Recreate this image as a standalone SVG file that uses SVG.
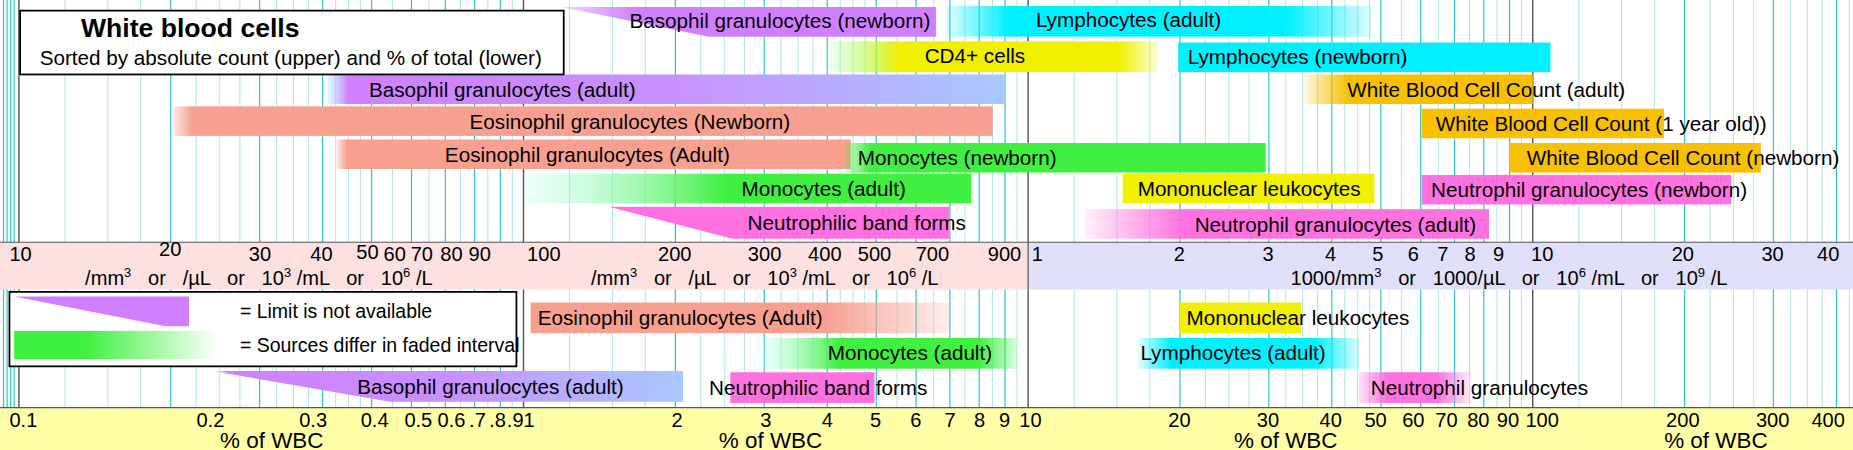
<svg xmlns="http://www.w3.org/2000/svg" xmlns:xlink="http://www.w3.org/1999/xlink" width="1853" height="450" viewBox="0 0 1853 450">
<style>
text{font-family:"Liberation Sans",Arial,sans-serif;fill:#000}
.lb{font-size:17.5px}
.tk{font-size:17px;text-anchor:middle}
.ts{font-size:17px}
.pw{font-size:19px;text-anchor:middle}
.un{font-size:17px;white-space:pre}
.lg{font-size:16.5px}
.g1{stroke:#2cc4c4;stroke-width:1}
.g2{stroke:#a8e6e6;stroke-width:0.8}
.gd{stroke:#555;stroke-width:1.2}
</style>
<defs>
<g id="dec">
<line class="gd" x1="0" y1="0" x2="0" y2="381"/>
<g class="g1"><line x1="128.5" y1="0" x2="128.5" y2="381"/><line x1="203.7" y1="0" x2="203.7" y2="381"/><line x1="257" y1="0" x2="257" y2="381"/><line x1="298.5" y1="0" x2="298.5" y2="381"/><line x1="332.2" y1="0" x2="332.2" y2="381"/><line x1="360.8" y1="0" x2="360.8" y2="381"/><line x1="385.6" y1="0" x2="385.6" y2="381"/><line x1="407.4" y1="0" x2="407.4" y2="381"/></g>
<g class="g2"><line x1="75.2" y1="0" x2="75.2" y2="381"/><line x1="169.9" y1="0" x2="169.9" y2="381"/><line x1="232.3" y1="0" x2="232.3" y2="381"/><line x1="278.9" y1="0" x2="278.9" y2="381"/><line x1="316.1" y1="0" x2="316.1" y2="381"/><line x1="347.1" y1="0" x2="347.1" y2="381"/><line x1="373.6" y1="0" x2="373.6" y2="381"/><line x1="396.8" y1="0" x2="396.8" y2="381"/><line x1="417.5" y1="0" x2="417.5" y2="381"/><line x1="39" y1="0" x2="39" y2="381"/><line x1="103" y1="0" x2="103" y2="381"/><line x1="150" y1="0" x2="150" y2="381"/><line x1="187" y1="0" x2="187" y2="381"/><line x1="218" y1="0" x2="218" y2="381"/><line x1="245" y1="0" x2="245" y2="381"/><line x1="268" y1="0" x2="268" y2="381"/><line x1="289" y1="0" x2="289" y2="381"/></g>
</g>
<linearGradient id="lymA"><stop offset="0" stop-color="#00f0ff" stop-opacity="0.1"/><stop offset="0.15" stop-color="#00f0ff"/><stop offset="0.8" stop-color="#00f0ff"/><stop offset="1" stop-color="#00f0ff" stop-opacity="0.15"/></linearGradient>
<linearGradient id="lymN"><stop offset="0" stop-color="#00f0ff"/><stop offset="1" stop-color="#00f0ff"/></linearGradient>
<linearGradient id="cd4"><stop offset="0" stop-color="#80ff80" stop-opacity="0.1"/><stop offset="0.22" stop-color="#f0f000"/><stop offset="0.88" stop-color="#f0f000"/><stop offset="1" stop-color="#f0f000" stop-opacity="0.15"/></linearGradient>
<linearGradient id="bas"><stop offset="0" stop-color="#a0e0ff" stop-opacity="0.3"/><stop offset="0.03" stop-color="#d080ff"/><stop offset="0.5" stop-color="#c890ff"/><stop offset="1" stop-color="#a8c8ff"/></linearGradient>
<linearGradient id="basN"><stop offset="0" stop-color="#d080ff" stop-opacity="0.3"/><stop offset="0.2" stop-color="#d080ff"/><stop offset="1" stop-color="#d080ff"/></linearGradient>
<linearGradient id="wbcA"><stop offset="0" stop-color="#f8c000" stop-opacity="0.1"/><stop offset="0.2" stop-color="#f8c000"/><stop offset="1" stop-color="#f8c000"/></linearGradient>
<linearGradient id="wbc"><stop offset="0" stop-color="#f8c000"/><stop offset="1" stop-color="#f8c000"/></linearGradient>
<linearGradient id="eosN"><stop offset="0" stop-color="#f8a090" stop-opacity="0.1"/><stop offset="0.025" stop-color="#f8a090"/><stop offset="1" stop-color="#f8a090"/></linearGradient>
<linearGradient id="eosA"><stop offset="0" stop-color="#f8a090" stop-opacity="0.2"/><stop offset="0.02" stop-color="#f8a090"/><stop offset="1" stop-color="#f8a090"/></linearGradient>
<linearGradient id="monN"><stop offset="0" stop-color="#40f040" stop-opacity="0.2"/><stop offset="0.06" stop-color="#40f040"/><stop offset="1" stop-color="#40f040"/></linearGradient>
<linearGradient id="monA"><stop offset="0" stop-color="#c0fff0" stop-opacity="0.3"/><stop offset="0.45" stop-color="#40f040"/><stop offset="1" stop-color="#40f040"/></linearGradient>
<linearGradient id="neuA"><stop offset="0" stop-color="#ff70e0" stop-opacity="0.1"/><stop offset="0.25" stop-color="#ff70e0"/><stop offset="1" stop-color="#ff70e0"/></linearGradient>
<linearGradient id="eosLow"><stop offset="0" stop-color="#f8a090"/><stop offset="0.7" stop-color="#f8a090"/><stop offset="1" stop-color="#f8a090" stop-opacity="0.15"/></linearGradient>
<linearGradient id="monLow"><stop offset="0" stop-color="#c0fff0" stop-opacity="0.3"/><stop offset="0.3" stop-color="#40f040"/><stop offset="0.85" stop-color="#40f040"/><stop offset="1" stop-color="#40f040" stop-opacity="0.2"/></linearGradient>
<linearGradient id="neuLow"><stop offset="0" stop-color="#ff70e0" stop-opacity="0.2"/><stop offset="0.25" stop-color="#ff70e0"/><stop offset="0.7" stop-color="#ff70e0"/><stop offset="1" stop-color="#ff70e0" stop-opacity="0.1"/></linearGradient>
<linearGradient id="leg"><stop offset="0" stop-color="#40f040"/><stop offset="0.35" stop-color="#40f040"/><stop offset="1" stop-color="#ffffff"/></linearGradient>
</defs>
<rect width="1853" height="450" fill="#fff"/>
<g transform="scale(1.18176)">
<g id="grid">
<use xlink:href="#dec" x="16"/><use xlink:href="#dec" x="443"/><use xlink:href="#dec" x="870"/><use xlink:href="#dec" x="1297"/>
<g class="g1"><line x1="3" y1="0" x2="3" y2="381"/><line x1="6" y1="0" x2="6" y2="381"/><line x1="9" y1="0" x2="9" y2="381"/><line x1="12" y1="0" x2="12" y2="381"/></g>
</g>
<g id="upper-bars">
<g id="basophil-newborn"><polygon points="475,6 792,6 792,31 600,31" fill="url(#basN)"/><text class="lb" x="660" y="24" text-anchor="middle">Basophil granulocytes (newborn)</text></g>
<g id="lymph-adult"><rect x="800" y="5" width="360" height="26" fill="url(#lymA)"/><text class="lb" x="955" y="23" text-anchor="middle">Lymphocytes (adult)</text></g>
<g id="cd4"><rect x="700" y="35" width="280" height="26" fill="url(#cd4)"/><text class="lb" x="825" y="53" text-anchor="middle">CD4+ cells</text></g>
<g id="lymph-newborn"><rect x="997" y="36" width="315" height="25" fill="url(#lymN)"/><text class="lb" x="1005" y="54">Lymphocytes (newborn)</text></g>
<g id="basophil-adult"><rect x="277" y="63" width="573" height="25" fill="url(#bas)"/><text class="lb" x="425" y="82" text-anchor="middle">Basophil granulocytes (adult)</text></g>
<g id="wbc-adult"><rect x="1103" y="63" width="194" height="25" fill="url(#wbcA)"/><text class="lb" x="1140" y="82">White Blood Cell Count (adult)</text></g>
<g id="eos-newborn"><rect x="145" y="90" width="695" height="25" fill="url(#eosN)"/><text class="lb" x="533" y="109" text-anchor="middle">Eosinophil granulocytes (Newborn)</text></g>
<g id="wbc-1y"><rect x="1203" y="92" width="205" height="25" fill="url(#wbc)"/><text class="lb" x="1215" y="111">White Blood Cell Count (1 year old))</text></g>
<g id="eos-adult"><rect x="285" y="118" width="435" height="25" fill="url(#eosA)"/><text class="lb" x="497" y="137" text-anchor="middle">Eosinophil granulocytes (Adult)</text></g>
<g id="mono-newborn"><rect x="715" y="121" width="356" height="25" fill="url(#monN)"/><text class="lb" x="810" y="140" text-anchor="middle">Monocytes (newborn)</text></g>
<g id="wbc-newborn"><rect x="1277" y="121" width="213" height="25" fill="url(#wbc)"/><text class="lb" x="1292" y="140">White Blood Cell Count (newborn)</text></g>
<g id="mono-adult"><rect x="445" y="147" width="377" height="25" fill="url(#monA)"/><text class="lb" x="697" y="166" text-anchor="middle">Monocytes (adult)</text></g>
<g id="mononuclear"><rect x="950" y="147" width="213" height="25" fill="#f0f000"/><text class="lb" x="1057" y="166" text-anchor="middle">Mononuclear leukocytes</text></g>
<g id="neutro-newborn"><rect x="1203" y="148" width="262" height="25" fill="#ff70e0"/><text class="lb" x="1211" y="167">Neutrophil granulocytes (newborn)</text></g>
<g id="band-forms"><polygon points="515,175 803,175 803,202 620,202" fill="#ff70e0"/><text class="lb" x="725" y="195" text-anchor="middle">Neutrophilic band forms</text></g>
<g id="neutro-adult"><rect x="918" y="177" width="342" height="25" fill="url(#neuA)"/><text class="lb" x="1130" y="196" text-anchor="middle">Neutrophil granulocytes (adult)</text></g>
</g>
<g id="title"><rect x="17" y="9" width="460" height="54" fill="#fff" stroke="#000" stroke-width="1.5"/><text x="161" y="31" font-size="22.5" font-weight="bold" text-anchor="middle">White blood cells</text><text x="246" y="55" font-size="17.5" text-anchor="middle">Sorted by absolute count (upper) and % of total (lower)</text></g>
<g id="upper-axis">
<rect x="0" y="205" width="870" height="40" fill="#fde0e0"/><rect x="870" y="205" width="698" height="40" fill="#e0e0fa"/>
<line x1="0" y1="205" x2="1568" y2="205" stroke="#555"/><line x1="870" y1="205" x2="870" y2="245" stroke="#555"/>
<text class="ts" x="8" y="221">10</text><text class="tk" x="144" y="217">20</text><text class="tk" x="220" y="221">30</text><text class="tk" x="272" y="221">40</text><text class="tk" x="311" y="219">50</text><text class="tk" x="334" y="221">60</text><text class="tk" x="357" y="221">70</text><text class="tk" x="382" y="221">80</text><text class="tk" x="406" y="221">90</text>
<text class="ts" x="446" y="221">100</text><text class="tk" x="571" y="221">200</text><text class="tk" x="647" y="221">300</text><text class="tk" x="698" y="221">400</text><text class="tk" x="740" y="221">500</text><text class="tk" x="789" y="221">700</text><text class="tk" x="850" y="221">900</text>
<text class="ts" x="873" y="221">1</text><text class="tk" x="998" y="221">2</text><text class="tk" x="1073" y="221">3</text><text class="tk" x="1126" y="221">4</text><text class="tk" x="1166" y="221">5</text><text class="tk" x="1196" y="221">6</text><text class="tk" x="1221" y="221">7</text><text class="tk" x="1244" y="221">8</text><text class="tk" x="1268" y="221">9</text><text class="tk" x="1305" y="221">10</text><text class="tk" x="1424" y="221">20</text><text class="tk" x="1500" y="221">30</text><text class="tk" x="1547" y="221">40</text>
<text class="un" x="72" y="241">/mm<tspan dy="-7" font-size="11">3</tspan><tspan dy="7">   or   /µL   or   10</tspan><tspan dy="-7" font-size="11">3</tspan><tspan dy="7"> /mL   or   10</tspan><tspan dy="-7" font-size="11">6</tspan><tspan dy="7"> /L</tspan></text>
<text class="un" x="500" y="241">/mm<tspan dy="-7" font-size="11">3</tspan><tspan dy="7">   or   /µL   or   10</tspan><tspan dy="-7" font-size="11">3</tspan><tspan dy="7"> /mL   or   10</tspan><tspan dy="-7" font-size="11">6</tspan><tspan dy="7"> /L</tspan></text>
<text class="un" x="1092" y="241">1000/mm<tspan dy="-7" font-size="11">3</tspan><tspan dy="7">   or   1000/µL   or   10</tspan><tspan dy="-7" font-size="11">6</tspan><tspan dy="7"> /mL   or   10</tspan><tspan dy="-7" font-size="11">9</tspan><tspan dy="7"> /L</tspan></text>
</g>
<g id="legend"><rect x="8" y="247" width="429" height="63" fill="#fff" stroke="#000" stroke-width="1.5"/><polygon points="12,251 160,251 160,276 140,276" fill="#d080ff"/><rect x="12" y="280" width="173" height="24" fill="url(#leg)"/><text class="lg" x="203" y="269">= Limit is not available</text><text class="lg" x="203" y="298">= Sources differ in faded interval</text></g>
<g id="lower-bars">
<g id="l-eos"><rect x="449" y="256" width="356" height="26" fill="url(#eosLow)"/><text class="lb" x="455" y="275">Eosinophil granulocytes (Adult)</text></g>
<g id="l-mononuclear"><rect x="998" y="256" width="103" height="26" fill="#f0f000"/><text class="lb" x="1004" y="275">Mononuclear leukocytes</text></g>
<g id="l-mono"><rect x="645" y="286" width="215" height="26" fill="url(#monLow)"/><text class="lb" x="770" y="305" text-anchor="middle">Monocytes (adult)</text></g>
<g id="l-lymph"><rect x="963" y="286" width="187" height="26" fill="url(#lymA)"/><text class="lb" x="965" y="305">Lymphocytes (adult)</text></g>
<g id="l-bas"><polygon points="180,314 578,314 578,340 330,340" fill="url(#bas)"/><text class="lb" x="415" y="333" text-anchor="middle">Basophil granulocytes (adult)</text></g>
<g id="l-band"><rect x="618" y="315" width="122" height="26" fill="#ff70e0"/><text class="lb" x="600" y="334">Neutrophilic band forms</text></g>
<g id="l-neutro"><rect x="1150" y="315" width="95" height="26" fill="url(#neuLow)"/><text class="lb" x="1160" y="334">Neutrophil granulocytes</text></g>
</g>
<g id="lower-axis">
<rect x="0" y="345" width="1568" height="36" fill="#ffffa8"/><line x1="0" y1="345" x2="1568" y2="345" stroke="#555"/>
<text class="ts" x="8" y="361">0.1</text><text class="tk" x="178" y="361">0.2</text><text class="tk" x="265" y="361">0.3</text><text class="tk" x="317" y="361">0.4</text><text class="tk" x="354" y="361">0.5</text><text class="tk" x="382" y="361">0.6</text><text class="tk" x="404" y="361">.7</text><text class="tk" x="421" y="361">.8</text><text class="tk" x="436" y="361">.9</text><text class="ts" x="443" y="361">1</text>
<text class="tk" x="573" y="361">2</text><text class="tk" x="648" y="361">3</text><text class="tk" x="700" y="361">4</text><text class="tk" x="741" y="361">5</text><text class="tk" x="775" y="361">6</text><text class="tk" x="804" y="361">7</text><text class="tk" x="829" y="361">8</text><text class="tk" x="850" y="361">9</text><text class="tk" x="872" y="361">10</text>
<text class="tk" x="998" y="361">20</text><text class="tk" x="1073" y="361">30</text><text class="tk" x="1126" y="361">40</text><text class="tk" x="1164" y="361">50</text><text class="tk" x="1196" y="361">60</text><text class="tk" x="1224" y="361">70</text><text class="tk" x="1251" y="361">80</text><text class="tk" x="1276" y="361">90</text><text class="tk" x="1305" y="361">100</text><text class="tk" x="1424" y="361">200</text><text class="tk" x="1500" y="361">300</text><text class="tk" x="1547" y="361">400</text>
<text class="pw" x="230" y="379">% of WBC</text><text class="pw" x="652" y="379">% of WBC</text><text class="pw" x="1088" y="379">% of WBC</text><text class="pw" x="1452" y="379">% of WBC</text>
</g>
</g>
</svg>
